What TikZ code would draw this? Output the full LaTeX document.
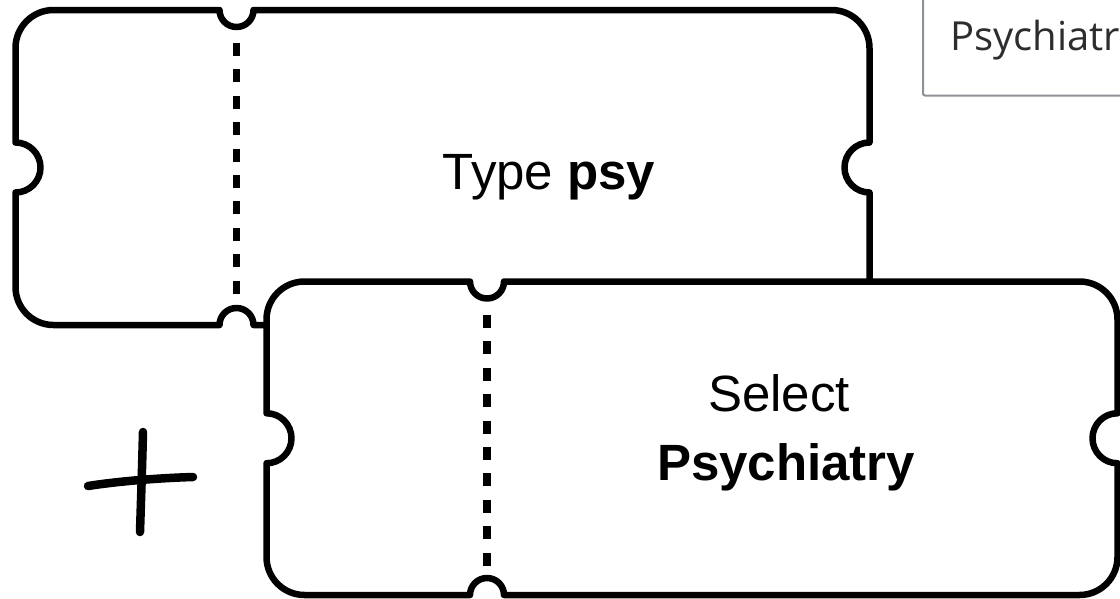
\documentclass[tikz,border=0pt]{standalone}
\usepackage{fontspec}
\setmainfont{Liberation Sans}
\newfontfamily\uifont{Open Sans}
\definecolor{boxgray}{RGB}{142,145,150}
\definecolor{uitextcol}{RGB}{45,45,48}

\tikzset{
  ticket/.style={line width=6.5pt, fill=white, line join=round},
  perforation/.style={line width=7.5pt, dash pattern=on 13pt off 13.4pt},
  penstroke/.style={line width=8.5pt, line cap=round},
  tickettext/.style={font=\fontsize{51}{60}\selectfont, inner sep=0pt},
  suggestbox/.style={draw=boxgray, line width=2pt, fill=white, rounded corners=2pt},
  suggesttext/.style={font=\uifont\fontsize{40}{48}\selectfont, text=uitextcol, inner sep=0pt},
}

% ticket outline: left, top, right, bottom, x of the perforation
\newcommand\drawticket[5]{%
  \draw[ticket] ({#1+38},#2) -- ({#5-17},#2)
    arc[start angle=180, end angle=0, radius=17]
    -- ({#3-38},#2) arc[start angle=-90, end angle=0, radius=38]
    -- (#3,{(#2+#4)/2-25}) arc[start angle=270, end angle=90, radius=25]
    -- (#3,{#4-38}) arc[start angle=0, end angle=90, radius=38]
    -- ({#5+17},#4) arc[start angle=0, end angle=-180, radius=17]
    -- ({#1+38},#4) arc[start angle=90, end angle=180, radius=38]
    -- (#1,{(#2+#4)/2+25}) arc[start angle=90, end angle=-90, radius=25]
    -- (#1,{#2+38}) arc[start angle=180, end angle=270, radius=38] -- cycle;
}

\begin{document}
\begin{tikzpicture}[x=1pt, y=-1pt]
  \useasboundingbox (0,0) rectangle (1120,598);
  \clip (0,0) rectangle (1120,598);

  % suggestion drop-down in the corner
  \draw[suggestbox] (923,-20) rectangle (1140,95.5);
  \node[suggesttext, anchor=base west] (suggestion) at (950,50) {Psychiatr};

  % first ticket
  \drawticket{15.5}{10}{869.5}{325}{236.5}
  \draw[perforation] (236.5,43) -- (236.5,293.5);
  \node[tickettext, anchor=base] (typepsy) at (549,189) {Type \textbf{psy}};

  % second ticket, laid over the first
  \drawticket{266.5}{281.5}{1117.5}{595}{487}
  \draw[perforation] (487,315) -- (487,565.5);
  \node[tickettext, anchor=base] (select) at (779,411) {Select};
  \node[tickettext, anchor=base] (psychiatry) at (786,480) {\textbf{Psychiatry}};

  % hand-drawn plus
  \draw[penstroke] (88,486) .. controls (120,481) and (160,478) .. (193,477);
  \draw[penstroke] (143,432) .. controls (142,470) .. (140,532);
\end{tikzpicture}
\end{document}
